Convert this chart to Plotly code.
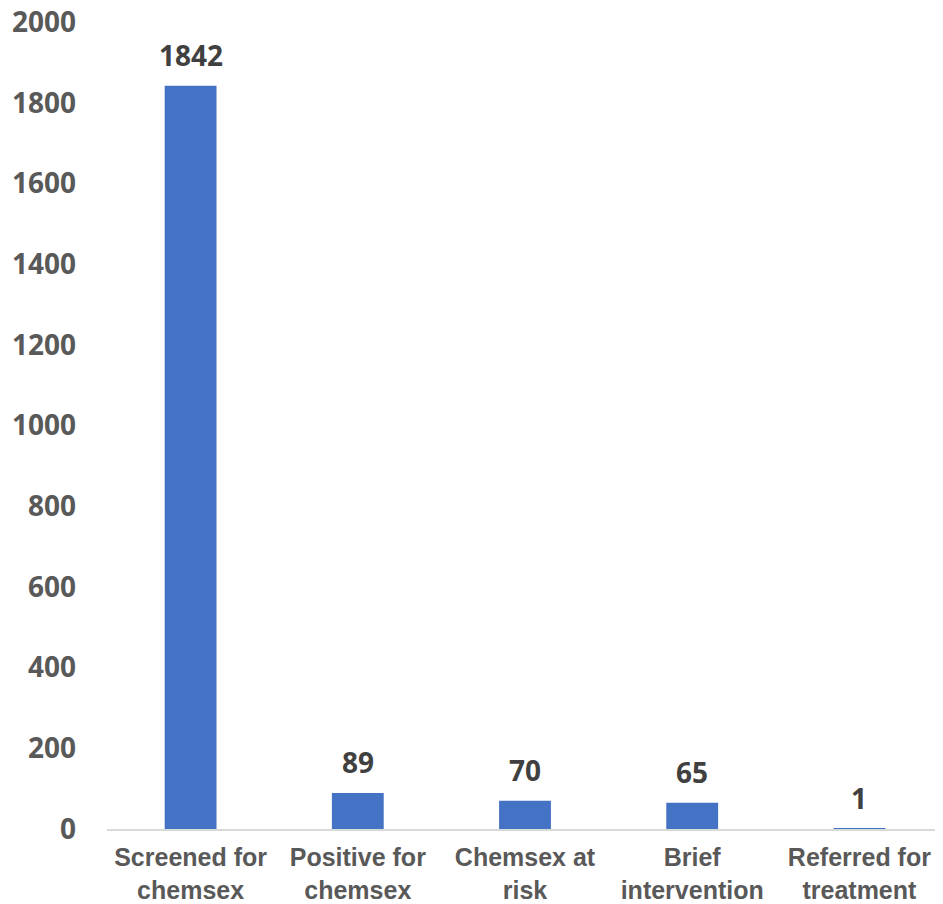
import plotly.graph_objects as go

categories = ["Screened for<br>chemsex", "Positive for<br>chemsex", "Chemsex at<br>risk",
              "Brief<br>intervention", "Referred for<br>treatment"]
values = [1842, 89, 70, 65, 1]
y_ticks = list(range(0, 2001, 200))

fig = go.Figure(go.Bar(
    x=categories, y=values,
    marker=dict(color="#4472C4", line=dict(width=0)),
    cliponaxis=False,
))

for c, v in zip(categories, values):
    fig.add_annotation(x=c, y=v, text=str(v), showarrow=False, yanchor="bottom", yshift=10,
                       font=dict(family="Open Sans, Liberation Sans, Arial", size=28,
                                 color="#404040", weight="bold"))

fig.update_layout(
    width=935, height=896,
    margin=dict(l=99, r=0, t=14, b=75),
    plot_bgcolor="white", paper_bgcolor="white",
    bargap=0.69, showlegend=False,
    font=dict(family="Liberation Sans, Arial", size=22, color="#595959"),
)
fig.update_yaxes(range=[0, 2000], tickvals=y_ticks, showgrid=False, zeroline=False,
                 showline=False, ticks="", ticklabelstandoff=30, automargin=False,
                 ticklabeloverflow="allow",
                 tickfont=dict(family="Open Sans, Liberation Sans, Arial", size=28,
                               color="#595959", weight="bold"))
fig.update_xaxes(showline=True, linecolor="#D9D9D9", linewidth=2, ticks="", automargin=False,
                 ticklabelstandoff=5, layer="above traces", ticklabeloverflow="allow",
                 tickfont=dict(family="Liberation Sans, Arial", size=25, color="#595959", weight="bold"))

fig.write_html("out.html")
